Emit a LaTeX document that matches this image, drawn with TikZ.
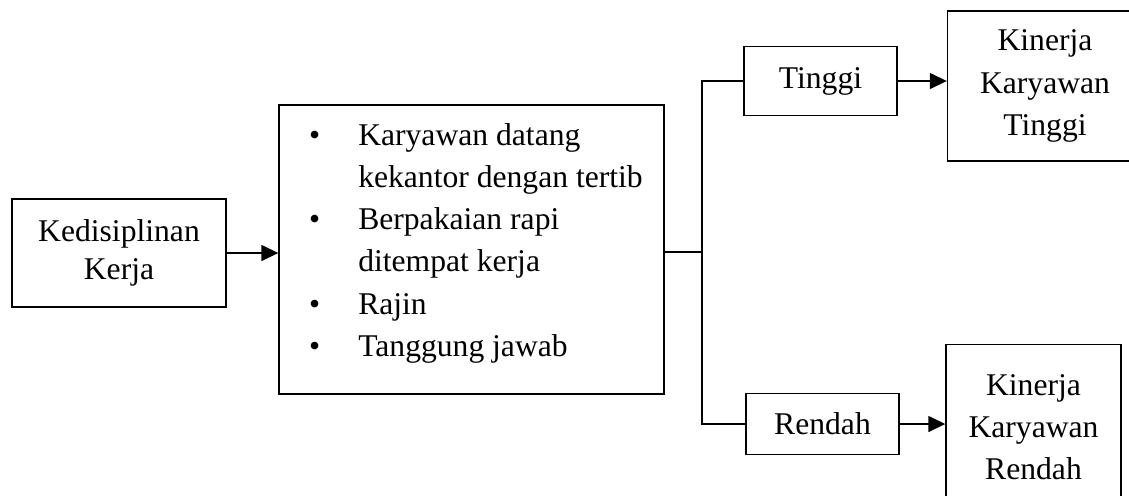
\documentclass[tikz,border=0pt]{standalone}
\usepackage{fontspec}
\setmainfont{Liberation Serif}
\usepackage{tikz}
\usetikzlibrary{arrows.meta,calc,positioning}
\tikzset{
every picture/.style={line join=miter},
plain box/.style={
  draw=black,
  line width=0.8pt,
  align=center,
  inner sep=4pt,
  font=\fontsize{18}{24}\selectfont
},
fig flow/.style={
  draw=black,
  -{Triangle[length=3.4mm,width=3.2mm]},
  line width=0.8pt
},
fig line/.style={draw=black, line width=0.8pt}
}
\begin{document}
\begin{tikzpicture}[
x=0.02cm,y=-0.02cm,
]
\useasboundingbox (0,0) rectangle (1129,495);
\clip (0,0) rectangle (1129,495);
\node[plain box,minimum width=4.28cm,minimum height=2.16cm,font=\fontsize{18}{22}\selectfont] (disiplin) at (119,253) {Kedisiplinan\\Kerja};
\node[plain box,minimum width=7.7cm,minimum height=5.78cm] (indikator) at (471.5,249.5) {\hspace*{0.18cm}\begin{tabular}{@{}l@{\hspace{0.76cm}}l@{}}
\textbullet & Karyawan datang\\
 & kekantor dengan tertib\\
\textbullet & Berpakaian rapi\\
 & ditempat kerja\\
\textbullet & Rajin\\
\textbullet & Tanggung jawab\\[8pt]
\end{tabular}};
\node[plain box,minimum width=3.06cm,minimum height=1.38cm] (tinggi) at (820.5,81) {Tinggi};
\node[plain box,minimum width=3.06cm,minimum height=1.22cm] (rendah) at (822.5,424) {Rendah};
\node[plain box,minimum width=3.9cm,minimum height=3cm] (kinerjatinggi) at (1045,86) {Kinerja\\Karyawan\\Tinggi};
\node[plain box,minimum width=3.5cm,minimum height=3.3cm] (kinerjarendah) at (1033.5,427) {Kinerja\\Karyawan\\Rendah};
\coordinate (cabang) at (702,252);
\draw[fig flow] (disiplin.east) -- (disiplin.east -| indikator.west);
\draw[fig line] (indikator.east |- cabang) -- (cabang);
\draw[fig line] (tinggi.west) -| (cabang) |- (rendah.west);
\draw[fig flow] (tinggi.east) -- (tinggi.east -| kinerjatinggi.west);
\draw[fig flow] (rendah.east) -- (rendah.east -| kinerjarendah.west);
\end{tikzpicture}
\end{document}
